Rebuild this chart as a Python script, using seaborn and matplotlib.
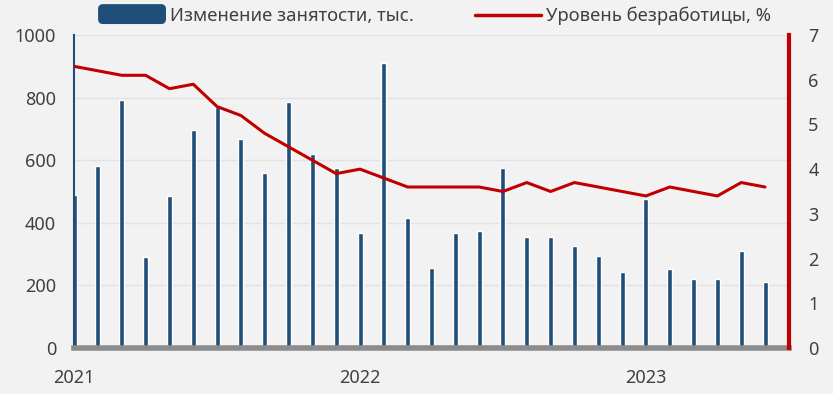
import numpy as np
import pandas as pd
import matplotlib
matplotlib.use("Agg")
import matplotlib.pyplot as plt
import seaborn as sns
from matplotlib.patches import Patch, FancyBboxPatch
from matplotlib.lines import Line2D
from matplotlib.legend_handler import HandlerPatch

# ---- data ----
months = pd.date_range("2021-01-01", "2023-06-01", freq="MS").strftime("%Y-%m").tolist()
employment_change = [490, 582, 794, 291, 486, 698, 771, 669, 560, 787, 620, 576,
                     367, 911, 416, 256, 367, 374, 576, 355, 355, 326, 294, 243,
                     477, 253, 221, 221, 310, 211]
unemployment = [6.3, 6.2, 6.1, 6.1, 5.8, 5.9, 5.4, 5.2, 4.8, 4.5, 4.2, 3.9,
                4.0, 3.8, 3.6, 3.6, 3.6, 3.6, 3.5, 3.7, 3.5, 3.7, 3.6, 3.5,
                3.4, 3.6, 3.5, 3.4, 3.7, 3.6]
year_labels = ["2021", "2022", "2023"]
bar_label = "Изменение занятости, тыс."
line_label = "Уровень безработицы, %"

df = pd.DataFrame({"month": months, "emp": employment_change, "unemp": unemployment})
df["pos"] = np.arange(len(df))

BLUE = "#1f4e79"
RED = "#c00000"
BG = "#f2f2f2"
TXT = "#404040"
FS = 13

sns.set_theme(style="white")
plt.rcParams["font.family"] = ["Noto Sans", "DejaVu Sans"]

fig = plt.figure(figsize=(8.33, 3.94), dpi=100, facecolor=BG)
ax = fig.add_axes([0.089, 0.117, 0.858, 0.794])
ax.set_facecolor(BG)

sns.barplot(data=df, x="month", y="emp", color=BLUE, width=0.21, saturation=1,
            ax=ax, zorder=2)
ax.set_xlim(0, len(df))
ax.set_ylim(0, 1000)
ax.set_yticks(range(0, 1001, 200))
ax.yaxis.grid(True, color="#e2e2e2", linewidth=1, zorder=0)
ax.set_axisbelow(True)
ax.set_xlabel("")
ax.set_ylabel("")
year_pos = [months.index(y + "-01") for y in year_labels]
ax.set_xticks(year_pos)
ax.set_xticklabels(year_labels)
ax.tick_params(axis="x", length=0, pad=15, labelsize=FS, labelcolor=TXT)
ax.tick_params(axis="y", length=0, pad=13, labelsize=FS, labelcolor=TXT)
for s in ["top", "right"]:
    ax.spines[s].set_visible(False)
ax.spines["left"].set_color(BLUE)
ax.spines["left"].set_linewidth(1.5)
ax.spines["bottom"].set_color("#8c8c8c")
ax.spines["bottom"].set_linewidth(4)
ax.spines["bottom"].set_zorder(5)

ax2 = ax.twinx()
sns.lineplot(data=df, x="pos", y="unemp", color=RED, linewidth=2.2, ax=ax2, zorder=3)
for ln in ax2.lines:
    ln.set_solid_joinstyle("round")
ax2.set_ylim(0, 7)
ax2.set_yticks(range(0, 8))
ax2.set_xlim(0, len(df))
ax2.set_ylabel("")
ax2.set_xlabel("")
ax2.tick_params(axis="y", length=0, pad=14, labelsize=FS, labelcolor=TXT)
for s in ["top", "left", "bottom"]:
    ax2.spines[s].set_visible(False)
ax2.spines["right"].set_color(RED)
ax2.spines["right"].set_linewidth(3)


def rounded_patch(legend, orig_handle, xdescent, ydescent, width, height, fontsize):
    return FancyBboxPatch((-xdescent, -ydescent - 1.5), width, height + 4,
                          boxstyle="round,pad=0,rounding_size=3")


handles = [Patch(facecolor=BLUE, edgecolor=BLUE),
           Line2D([0], [0], color=RED, linewidth=2.5)]
fig.legend(handles, [bar_label, line_label], loc="upper center",
           bbox_to_anchor=(0.522, 1.025), ncol=2, frameon=False,
           fontsize=13.3, handlelength=3.6, handletextpad=0.25, columnspacing=3.3,
           labelcolor=TXT, handler_map={Patch: HandlerPatch(patch_func=rounded_patch)})

fig.savefig("out.png", dpi=100, facecolor=BG)
